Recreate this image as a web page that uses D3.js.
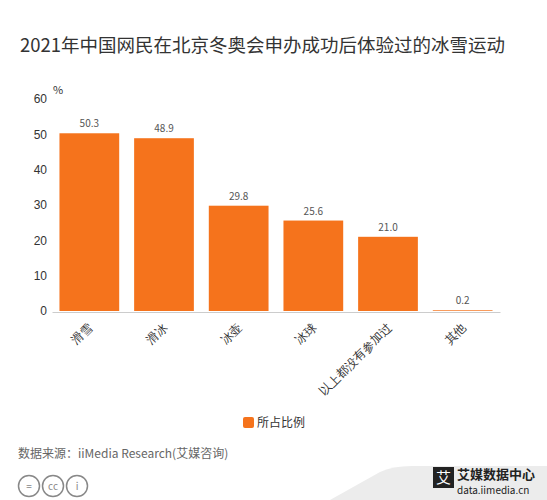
<!DOCTYPE html>
<html><head><meta charset="utf-8">
<script src="https://cdn.jsdelivr.net/npm/d3@7"></script>
<style>body{margin:0;background:#fff;font-family:"Noto Sans CJK SC","Open Sans",sans-serif;}</style>
</head><body>
<script>
const categories = ['滑雪', '滑冰', '冰壶', '冰球', '以上都没有参加过', '其他']
const values = [50.3, 48.9, 29.8, 25.6, 21.0, 0.2]
const yTicks = [0, 10, 20, 30, 40, 50, 60]
const seriesName = '所占比例'

const W = 547, H = 500
const svg = d3.select('body').append('svg').attr('width', W).attr('height', H)
  .style('font-family', '"Noto Sans CJK SC","Open Sans",sans-serif')

// title
svg.append('text').attr('x', 20).attr('y', 52).attr('font-size', 18.5).attr('fill', '#333')
  .text('2021年中国网民在北京冬奥会申办成功后体验过的冰雪运动')

const x = d3.scaleBand().domain(categories).range([52, 500]).paddingInner(0.2).paddingOuter(0.1)
const y = d3.scaleLinear().domain([0, 60]).range([311, 99])

// y axis
const yAxis = svg.append('g').attr('transform', 'translate(47,0)')
  .call(d3.axisLeft(y).tickValues(yTicks).tickSize(0).tickPadding(0))
yAxis.select('.domain').remove()
yAxis.selectAll('text').attr('font-size', 12).attr('fill', '#333')
svg.append('text').attr('x', 53).attr('y', 94).attr('font-size', 11).attr('fill', '#333').text('%')

// bars
svg.append('g').attr('fill', '#f5731c')
  .selectAll('rect').data(values).join('rect')
  .attr('x', (d, i) => x(categories[i]))
  .attr('y', d => y(d))
  .attr('width', x.bandwidth())
  .attr('height', d => y(0) - y(d))

svg.append('g').selectAll('text').data(values).join('text')
  .attr('x', (d, i) => x(categories[i]) + x.bandwidth() / 2)
  .attr('y', d => y(d) - 6)
  .attr('text-anchor', 'middle').attr('font-size', 10).attr('fill', '#555')
  .text(d => d.toFixed(1))

// x axis
const xAxis = svg.append('g').attr('transform', 'translate(0,312)')
  .call(d3.axisBottom(x).tickSize(0).tickSizeOuter(0))
xAxis.select('.domain').attr('stroke', '#ccc')
xAxis.selectAll('text').attr('font-size', 12).attr('fill', '#333')
  .attr('text-anchor', 'end').attr('dy', 0)
  .attr('transform', 'translate(2,14) rotate(-45)')

// legend
svg.append('rect').attr('x', 243).attr('y', 417).attr('width', 11).attr('height', 11).attr('rx', 2).attr('fill', '#f5731c')
svg.append('text').attr('x', 257).attr('y', 427).attr('font-size', 12).attr('fill', '#333').text(seriesName)

// source
svg.append('text').attr('x', 18).attr('y', 458).attr('font-size', 12).attr('fill', '#666')
  .text('数据来源：iiMedia Research(艾媒咨询)')

// cc icons
const icons = ['=', 'cc', 'i']
svg.append('g').selectAll('g').data(icons).join('g')
  .attr('transform', (d, i) => `translate(${29 + i * 24},486)`)
  .call(g => g.append('circle').attr('r', 10.5).attr('fill', 'none').attr('stroke', '#888').attr('stroke-width', 1.5))
  .call(g => g.append('text').attr('text-anchor', 'middle').attr('dy', 4).attr('font-size', 10).attr('fill', '#888').text(d => d))

// logo
svg.append('path').attr('d', 'M330,500 L380,472 Q392,466 412,466 L547,466 L547,500 Z').attr('fill', '#ececec')
svg.append('rect').attr('x', 433).attr('y', 467).attr('width', 21).attr('height', 21).attr('fill', '#222')
svg.append('text').attr('x', 443.5).attr('y', 483).attr('text-anchor', 'middle').attr('font-size', 15).attr('fill', '#fff').text('艾')
svg.append('text').attr('x', 457).attr('y', 479).attr('font-size', 13).attr('font-weight', 'bold').attr('fill', '#222').text('艾媒数据中心')
svg.append('text').attr('x', 457).attr('y', 494).attr('font-size', 10).attr('fill', '#222').text('data.iimedia.cn')
</script>
</body></html>
